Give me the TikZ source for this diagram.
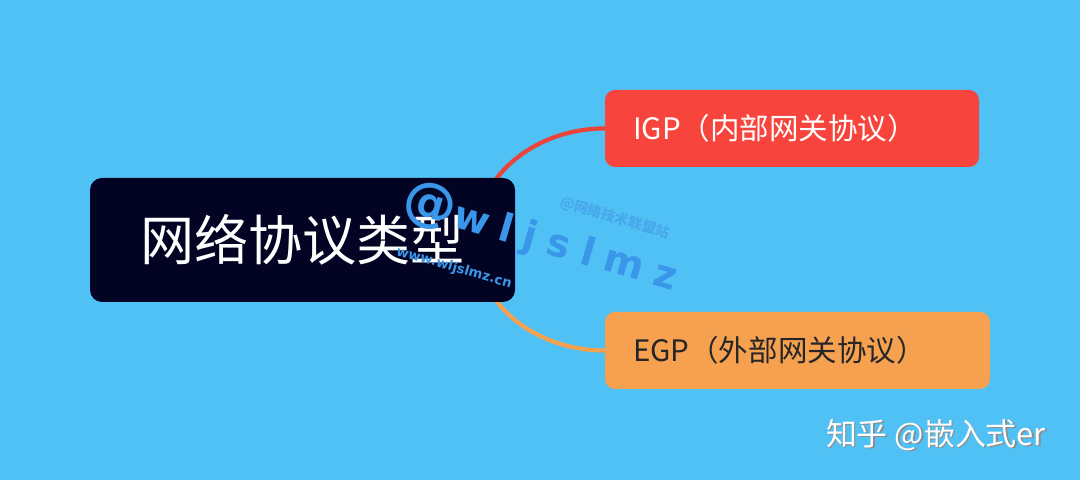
\documentclass[tikz,border=0pt]{standalone}
\usepackage{fontspec}
\setmainfont{Noto Sans CJK SC}
\newfontfamily\wmfont[LetterSpace=30]{DejaVu Sans}
\newfontfamily\wmsmall{DejaVu Sans}
\usetikzlibrary{positioning}
\pgfdeclarelayer{background}
\pgfsetlayers{background,main}

\definecolor{skyblue}{RGB}{79,193,245}
\definecolor{rootnavy}{RGB}{3,3,36}
\definecolor{igpred}{RGB}{247,69,61}
\definecolor{egporange}{RGB}{245,161,80}
\definecolor{wmblue}{RGB}{58,150,232}
\definecolor{wmfaint}{RGB}{72,168,236}

\tikzset{
  rootbox/.style={fill=rootnavy, rounded corners=0.12cm, minimum width=4.25cm,
    minimum height=1.24cm, text=white, font=\fontsize{15.4pt}{18pt}\selectfont},
  branchbox/.style={rounded corners=0.1cm, minimum height=0.77cm, inner xsep=0.28cm,
    align=left, font=\fontsize{8.4pt}{10pt}\selectfont},
  branchline/.style={line width=1.2pt, line cap=round},
}

\begin{document}
\begin{tikzpicture}
    \useasboundingbox (0.0,0.0) rectangle (10.8,4.8);

    % root topic
    \node [rootbox] (root) at (3.025,2.40) {网络协议类型};

    % the two branches
    \node [branchbox, fill=igpred, text=white, text width=3.18cm] (igp) at (7.92,3.515)
        {IGP（内部网关协议）};
    \node [branchbox, fill=egporange, text=black!85, text width=3.29cm] (egp) at (7.975,1.295)
        {EGP（外部网关协议）};

    \begin{pgfonlayer}{background}
    \fill[skyblue] (0.0,0.0) rectangle (10.8,4.8);
    \draw[branchline, igpred!95!black] ([xshift=-4mm]root.east) to [out=90, in=180] (igp.west);
    \draw[branchline, egporange] ([xshift=-4mm]root.east) to [out=-90, in=180] (egp.west);
    \end{pgfonlayer}

    % watermarks
    \node [rotate=-16, text=wmblue, font=\wmfont\bfseries\fontsize{11pt}{13pt}\selectfont] (wmbig) at (5.41,2.42)
        {{\fontsize{15pt}{17pt}\selectfont @}wljslmz};
    \node [rotate=-16, text=wmblue, font=\wmsmall\bfseries\fontsize{3.8pt}{5pt}\selectfont] (wmurl) at (4.54,2.12)
        {www.wljslmz.cn};
    \node [rotate=-16, text=wmfaint, font=\bfseries\fontsize{4pt}{5pt}\selectfont] (wmcn) at (6.15,2.62)
        {@网络技术联盟站};

    \node [text=black!45, font=\fontsize{8.8pt}{10pt}\selectfont] at (9.375,0.435) {知乎 @嵌入式er};
    \node [text=white, font=\fontsize{8.8pt}{10pt}\selectfont] (zhihu) at (9.36,0.45) {知乎 @嵌入式er};

  \end{tikzpicture}
\end{document}
